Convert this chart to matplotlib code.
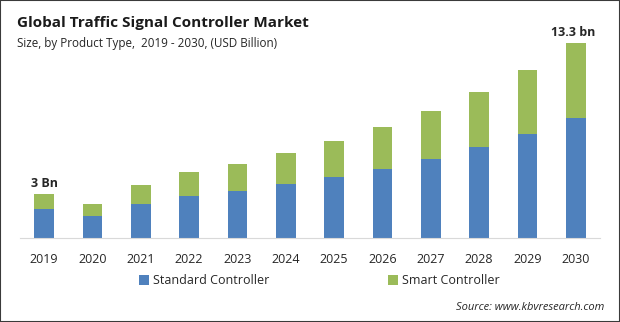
import numpy as np
import matplotlib.pyplot as plt
from matplotlib.patches import Rectangle

plt.rcParams['font.family'] = ['Open Sans', 'DejaVu Sans']

# valeurs (USD milliards)
annees = ['2019', '2020', '2021', '2022', '2023', '2024',
          '2025', '2026', '2027', '2028', '2029', '2030']
standard = [1.98, 1.50, 2.32, 2.86, 3.21, 3.68, 4.18, 4.73, 5.41, 6.23, 7.11, 8.21]
smart = [1.02, 0.84, 1.29, 1.64, 1.84, 2.12, 2.44, 2.82, 3.27, 3.75, 4.35, 5.09]
etiquettes = {0: '3 Bn', 11: '13.3 bn'}

bleu = '#4F81BD'
vert = '#9BBB59'
texte = '#262626'

fig = plt.figure(figsize=(6.2, 3.22), dpi=100)
ax = fig.add_axes([20/620, 84/322, 580/620, 208/322])

x = np.arange(len(annees))
ax.bar(x, standard, width=0.41, color=bleu, label='Standard Controller')
ax.bar(x, smart, width=0.41, bottom=standard, color=vert, label='Smart Controller')

for i, txt in etiquettes.items():
    total = standard[i] + smart[i]
    ax.annotate(txt, (x[i], total), xytext=(-2 if i == 11 else 0, 3), textcoords='offset points',
                ha='center', va='bottom', fontsize=9, fontweight='bold', color=texte)

ax.set_xlim(-0.5, len(annees) - 0.5)
ax.set_ylim(0, 14.2)
ax.set_xticks(x)
ax.set_xticklabels(annees, fontsize=9, color=texte)
ax.tick_params(axis='x', length=0, pad=11)
ax.set_yticks([])
for s in ['top', 'right', 'left']:
    ax.spines[s].set_visible(False)
ax.spines['bottom'].set_color('#d9d9d9')

fig.legend(loc='center', bbox_to_anchor=(0.515, 1 - 281/322), ncol=2, frameon=False,
           fontsize=9, handlelength=0.8, handleheight=0.8, handletextpad=0.3,
           columnspacing=9.5, labelcolor=texte)

fig.text(17/620, 1 - 23/322, 'Global Traffic Signal Controller Market',
         fontsize=11, fontweight='bold', color='#1a1a1a', va='center')
fig.text(17/620, 1 - 44/322, 'Size, by Product Type,  2019 - 2030, (USD Billion)',
         fontsize=8.4, color=texte, va='center')
fig.text(604/620, 1 - 307/322, 'Source: www.kbvresearch.com',
         fontsize=8, style='italic', color=texte, ha='right', va='center')

# cadre autour de la figure
fig.patches.append(Rectangle((0, 0), 1, 1, transform=fig.transFigure, fill=False,
                             edgecolor='#3a3a3a', linewidth=1.5))

fig.savefig('out.png', dpi=100)
